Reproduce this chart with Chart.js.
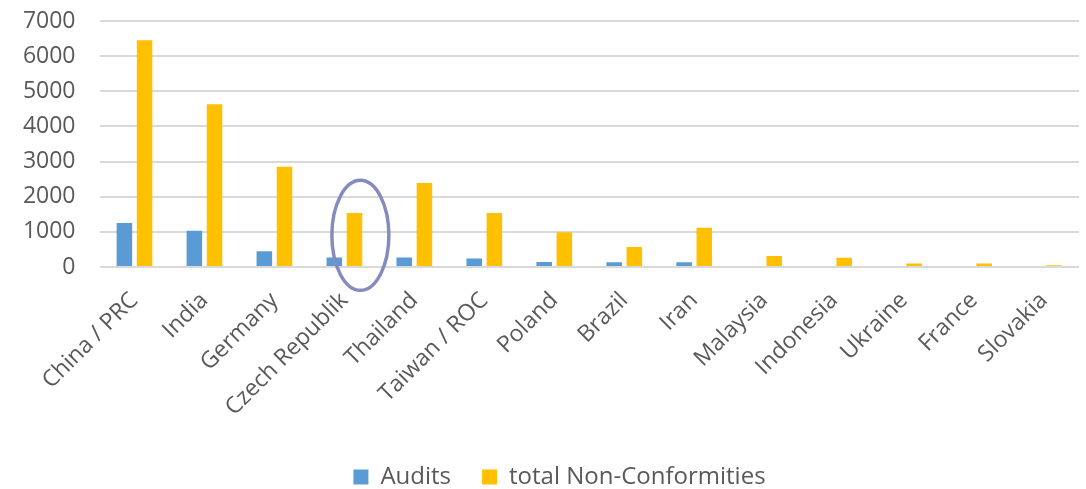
<!DOCTYPE html>
<html>
<head>
<meta charset="utf-8">
<script src="https://cdn.jsdelivr.net/npm/chart.js@4"></script>
<style>
  html, body { margin: 0; padding: 0; background: #ffffff; }
  #wrap { width: 1086px; height: 489px; }
</style>
</head>
<body>
<div id="wrap"><canvas id="c"></canvas></div>
<script>
// Categories and series
const countries = ["China / PRC", "India", "Germany", "Czech Republik", "Thailand", "Taiwan / ROC",
  "Poland", "Brazil", "Iran", "Malaysia", "Indonesia", "Ukraine", "France", "Slovakia"];
const audits = [1250, 1030, 450, 270, 270, 240, 140, 135, 135, 0, 0, 0, 0, 0];
const nonConformities = [6450, 4630, 2850, 1540, 2390, 1540, 990, 570, 1120, 310, 265, 100, 100, 50];
const yTicks = [0, 1000, 2000, 3000, 4000, 5000, 6000, 7000];

// Highlight ring around one category
const highlightIndex = 3;

const ringPlugin = {
  id: 'ring',
  afterDatasetsDraw(chart) {
    const x = chart.scales.x, y = chart.scales.y;
    const cx = x.getPixelForValue(highlightIndex) + 16;
    const cy = y.getPixelForValue(900);
    const ctx = chart.ctx;
    ctx.save();
    ctx.beginPath();
    ctx.ellipse(cx, cy, 28.5, 55, 0, 0, Math.PI * 2);
    ctx.lineWidth = 3.5;
    ctx.strokeStyle = '#858cbd';
    ctx.stroke();
    ctx.restore();
  }
};

// Nudge the legend row a little to the right of the canvas centre
const legendOffset = {
  id: 'legendOffset',
  afterLayout(chart) {
    const lg = chart.legend;
    if (!lg) return;
    lg.left += 20;
    lg.right += 20;
    lg.adjustHitBoxes();
  }
};

const textColor = '#595959';

new Chart(document.getElementById('c'), {
  type: 'bar',
  data: {
    labels: countries,
    datasets: [
      { label: 'Audits', data: audits, backgroundColor: '#5b9bd5',
        categoryPercentage: 0.577, barPercentage: 0.77 },
      { label: 'total Non-Conformities', data: nonConformities, backgroundColor: '#ffc000',
        categoryPercentage: 0.577, barPercentage: 0.77 }
    ]
  },
  options: {
    responsive: true,
    maintainAspectRatio: false,
    animation: false,
    layout: { padding: { top: 21, right: 7, left: 0, bottom: -10 } },
    plugins: {
      legend: {
        position: 'bottom',
        labels: {
          color: textColor,
          font: { family: 'Open Sans', size: 24 },
          boxWidth: 15, boxHeight: 15, padding: 31
        }
      },
      tooltip: { enabled: false }
    },
    scales: {
      x: {
        grid: { display: false },
        border: { display: false },
        ticks: {
          color: textColor,
          font: { family: 'Open Sans', size: 23 },
          minRotation: 45, maxRotation: 45, padding: 12
        },
        afterFit(scale) { scale.height = 167; }
      },
      y: {
        min: 0, max: 7000,
        afterBuildTicks(scale) { scale.ticks = yTicks.map(v => ({ value: v })); },
        grid: { color: '#d9d9d9', lineWidth: 2, drawTicks: true, tickLength: 24, tickColor: 'rgba(0,0,0,0)' },
        border: { display: false },
        ticks: {
          color: textColor,
          font: { family: 'Open Sans', size: 23 },
          padding: 0,
          callback: v => String(v)
        },
        afterFit(scale) { scale.width = 99.5; }
      }
    }
  },
  plugins: [ringPlugin, legendOffset]
});
</script>
</body>
</html>
